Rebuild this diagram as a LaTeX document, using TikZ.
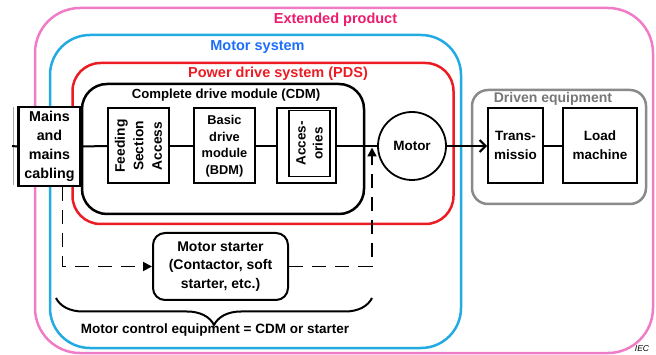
\documentclass[tikz,border=0pt]{standalone}
\usepackage{fontspec}
\setmainfont{Liberation Sans}
\usetikzlibrary{arrows.meta,decorations.pathreplacing,calc}
\definecolor{pinkline}{HTML}{F07CC8}
\definecolor{pinktext}{HTML}{EE1C6E}
\definecolor{cyanline}{HTML}{22AAE2}
\definecolor{bluetext}{HTML}{1E6EF8}
\definecolor{redline}{HTML}{EC1C24}
\definecolor{grayline}{HTML}{8A8A8A}
\definecolor{graytext}{HTML}{767676}
\begin{document}
\begin{tikzpicture}[x=1pt,y=-1pt,
  container/.style={line width=2.5pt, inner sep=0pt},
  title/.style={font=\fontsize{14.5}{17}\selectfont\bfseries, inner sep=0pt},
  box/.style={draw, line width=2pt, fill=white, inner sep=0pt},
  lbl/.style={align=center, inner sep=0pt, font=\fontsize{13}{16.5}\selectfont\bfseries},
  wire/.style={line width=2pt},
  dashline/.style={line width=1.8pt, dash pattern=on 14pt off 9pt},
  tri/.style={-{Triangle[length=9pt,width=9pt]}}
]
\useasboundingbox (0,0) rectangle (656,355);
% containers
\node[container, draw=pinkline, rounded corners=45pt, minimum width=618pt, minimum height=345pt] (ext) at (344,180.5) {};
\node[container, draw=cyanline, rounded corners=40pt, minimum width=411pt, minimum height=313pt] (msys) at (255.5,191.5) {};
\node[container, draw=redline, rounded corners=28pt, minimum width=381pt, minimum height=161pt] (pds) at (263,143.5) {};
\node[container, draw=black, rounded corners=25pt, minimum width=282pt, minimum height=130pt] (cdm) at (223,149) {};
\node[container, draw=grayline, rounded corners=16pt, minimum width=174pt, minimum height=114pt] (drv) at (559,147) {};
% titles
\node[title, text=pinktext] (extT) at (335.5,20) {Extended product};
\node[title, text=bluetext] (msysT) at (257.5,47) {Motor system};
\node[title, text=redline] (pdsT) at (278,74) {Power drive system (PDS)};
\node[lbl, font=\fontsize{13.2}{16}\selectfont\bfseries] (cdmT) at (226,95) {Complete drive module (CDM)};
\node[title, text=graytext, font=\fontsize{14}{17}\selectfont\bfseries] (drvT) at (553,99) {Driven equipment};
% wires
\coordinate (lft) at (12,146);
\coordinate (tl1) at (13,107);
\coordinate (tl2) at (13,185);
\draw[gray!70, line width=0.8pt] (tl1) -- (tl2);
% boxes
\node[box, line width=2.8pt, minimum width=62pt, minimum height=79pt] (mains) at (49.5,146.5) {};
\node[lbl, font=\fontsize{14.3}{19}\selectfont\bfseries] (mainsT) at (mains) {Mains\\and\\mains\\cabling};
\node[box, minimum width=61pt, minimum height=75pt] (fsa) at (138.5,146) {};
\node[lbl, rotate=90, font=\fontsize{13.8}{18.5}\selectfont\bfseries] (fsaT) at (fsa) {Feeding\\Section\\Access};
\node[box, minimum width=61pt, minimum height=75pt] (bdm) at (224.5,146) {};
\node[lbl, font=\fontsize{12.8}{16.5}\selectfont\bfseries] (bdmT) at (bdm) {Basic\\drive\\module\\(BDM)};
\node[box, minimum width=59pt, minimum height=75pt] (acc) at (306.5,146) {};
\node[box, line width=1.6pt, minimum width=41pt, minimum height=66pt] (acci) at (309.5,143.5) {};
\node[lbl, rotate=90, font=\fontsize{13.5}{17}\selectfont\bfseries] (accT) at (acci) {Acces-\\ories};
\node[box, circle, minimum size=68pt, line width=1.8pt] (motor) at (412,146) {};
\node[lbl, font=\fontsize{13.5}{16}\selectfont\bfseries] (motorT) at (motor) {Motor};
\node[box, minimum width=55pt, minimum height=75pt] (trans) at (515.5,146) {};
\node[lbl, font=\fontsize{13.5}{19}\selectfont\bfseries] (transT) at ($(trans)+(0,-1)$) {Trans-\\missio};
\node[box, minimum width=74pt, minimum height=75pt] (load) at (600,146) {};
\node[lbl, font=\fontsize{13.5}{19}\selectfont\bfseries] (loadT) at ($(load)+(0,-1)$) {Load\\machine};
\node[box, rounded corners=12pt, minimum width=135pt, minimum height=67pt] (starter) at (220.5,266.5) {};
\node[lbl, font=\fontsize{14}{18.5}\selectfont\bfseries] (starterT) at (starter) {Motor starter\\(Contactor, soft\\starter, etc.)};
% connectors
\begin{scope}[on background layer/.try]
\end{scope}
\draw[wire] (lft) -- (mains.west);
\draw[wire] (mains.east) -- (fsa.west);
\draw[wire] (fsa.east) -- (bdm.west);
\draw[wire] (bdm.east) -- (acc.west);
\draw[wire] (acc.east) -- (motor.west);
\draw[wire, -{Straight Barb[length=6pt,width=12pt,line width=2pt]}] (motor.east) -- (trans.west);
\draw[wire] (trans.east) -- (load.west);
\coordinate (tipc) at (372,147.5);
\draw[dashline, tri] ($(mains.south west)!0.7!(mains.south east)$) |- (starter.west);
\draw[dashline, tri] (starter.east) -| (tipc);
% brace
\coordinate (b1) at (56,298);
\coordinate (b2) at (372,298);
\draw[line width=2pt, decorate, decoration={brace, amplitude=27pt, mirror}] (b1) -- (b2);
\node[lbl, font=\fontsize{13.5}{16}\selectfont\bfseries] (mce) at (215,330) {Motor control equipment = CDM or starter};
\node[inner sep=0pt, font=\fontsize{8.5}{10}\selectfont\itshape] (iec) at (642,349) {IEC};
\end{tikzpicture}
\end{document}
